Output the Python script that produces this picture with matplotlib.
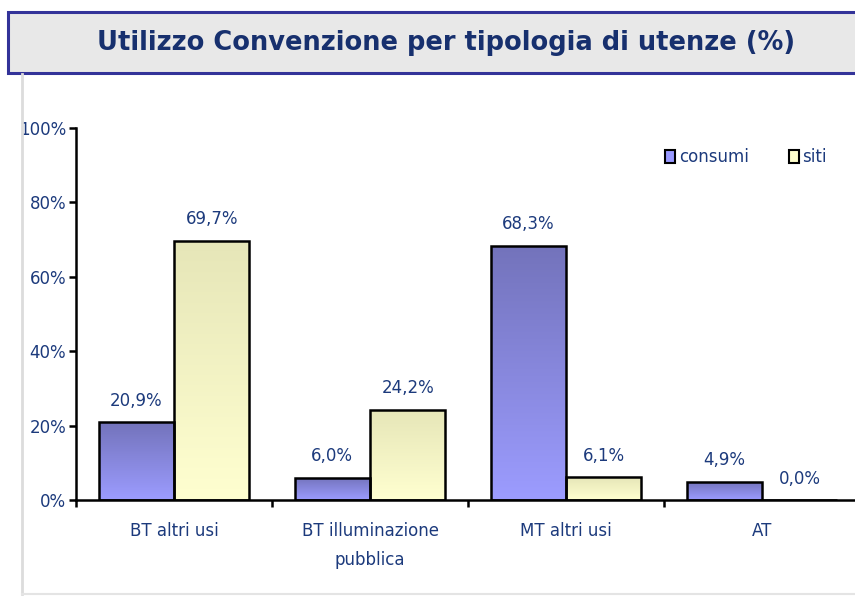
import matplotlib
matplotlib.use("Agg")
import matplotlib.pyplot as plt
from matplotlib.patches import Rectangle
from matplotlib.lines import Line2D
import numpy as np

# data
categorie = ["BT altri usi", "BT illuminazione\npubblica", "MT altri usi", "AT"]
consumi = [20.9, 6.0, 68.3, 4.9]
siti = [69.7, 24.2, 6.1, 0.0]
serie = ["consumi", "siti"]
titolo = "Utilizzo Convenzione per tipologia di utenze (%)"

blu = "#1c3a7c"
plt.rcParams['font.family'] = ['DejaVu Sans']

fig = plt.figure(figsize=(8.55, 5.96), dpi=100)

# title box
fig.patches.append(Rectangle((8/855, 1-73/596), 1.0, 61/596, transform=fig.transFigure,
                             facecolor="#e8e8e8", edgecolor="#333399", lw=2.2))
fig.text(0.522, 1-43/596, titolo, ha="center", va="center", fontsize=18.5,
         fontweight="bold", color="#17306e")
# light frame lines
fig.add_artist(Line2D([22/855, 22/855], [1-74/596, 1-594/596], transform=fig.transFigure,
                      color="#dcdcdc", lw=2))
fig.add_artist(Line2D([22/855, 1.0], [1-594/596, 1-594/596], transform=fig.transFigure,
                      color="#e4e4e4", lw=1.5))

ax = fig.add_axes([76/855, 96/596, 784/855, 372/596])
x = np.arange(len(categorie))
w = 0.385

def gradient_bars(bars, c_top, c_bot):
    from matplotlib.colors import LinearSegmentedColormap
    cmap = LinearSegmentedColormap.from_list("g", [c_bot, c_top])
    grad = np.linspace(0, 1, 256).reshape(-1, 1)
    for b in bars:
        h = b.get_height()
        if h <= 0:
            continue
        x0 = b.get_x()
        im = ax.imshow(grad, cmap=cmap, origin="lower", aspect="auto",
                       extent=(x0, x0 + b.get_width(), 0, h), zorder=2)
        im.set_clip_path(b)

b1 = ax.bar(x - w/2, consumi, w, facecolor="none", edgecolor="black", lw=1.8, zorder=3)
b2 = ax.bar(x + w/2, siti, w, facecolor="none", edgecolor="black", lw=1.8, zorder=3)
gradient_bars(b1, "#7373bb", "#9c9cff")
gradient_bars(b2, "#e6e6b8", "#ffffd0")

for bars, vals in ((b1, consumi), (b2, siti)):
    for b, v in zip(bars, vals):
        ax.annotate(f"{v:.1f}%".replace(".", ","), (b.get_x() + b.get_width()/2, v),
                    xytext=(0, 9), textcoords="offset points", ha="center", va="bottom",
                    fontsize=12, color=blu)

ax.set_xlim(-0.5, 3.5)
ax.set_ylim(0, 100)
ax.set_yticks(np.arange(0, 101, 20))
ax.set_yticklabels([f"{v}%" for v in range(0, 101, 20)])
ax.set_xticks(x)
ax.set_xticklabels(categorie, linespacing=1.75)
ax.set_xticks(np.arange(-0.5, 4, 1), minor=True)
ax.tick_params(axis="x", which="major", length=0, pad=16, labelsize=12, labelcolor=blu)
ax.tick_params(axis="x", which="minor", length=5, width=1.8, direction="out")
ax.tick_params(axis="y", length=5, width=1.8, direction="out", labelsize=12,
               labelcolor=blu, pad=2)
for s in ("top", "right"):
    ax.spines[s].set_visible(False)
for s in ("left", "bottom"):
    ax.spines[s].set_linewidth(1.8)
ax.patch.set_alpha(0)

handles = [Rectangle((0, 0), 1, 1, facecolor="#9999ff", edgecolor="black", lw=1.5),
           Rectangle((0, 0), 1, 1, facecolor="#ffffcc", edgecolor="black", lw=1.5)]
leg = ax.legend(handles, serie, loc="upper left", bbox_to_anchor=(657/855, 1-140/596),
                bbox_transform=fig.transFigure, ncol=2, frameon=False, fontsize=12,
                handlelength=0.6, handleheight=0.8, handletextpad=0.2, columnspacing=2.4,
                borderpad=0)
for t in leg.get_texts():
    t.set_color(blu)

fig.savefig("out.png", dpi=100)
